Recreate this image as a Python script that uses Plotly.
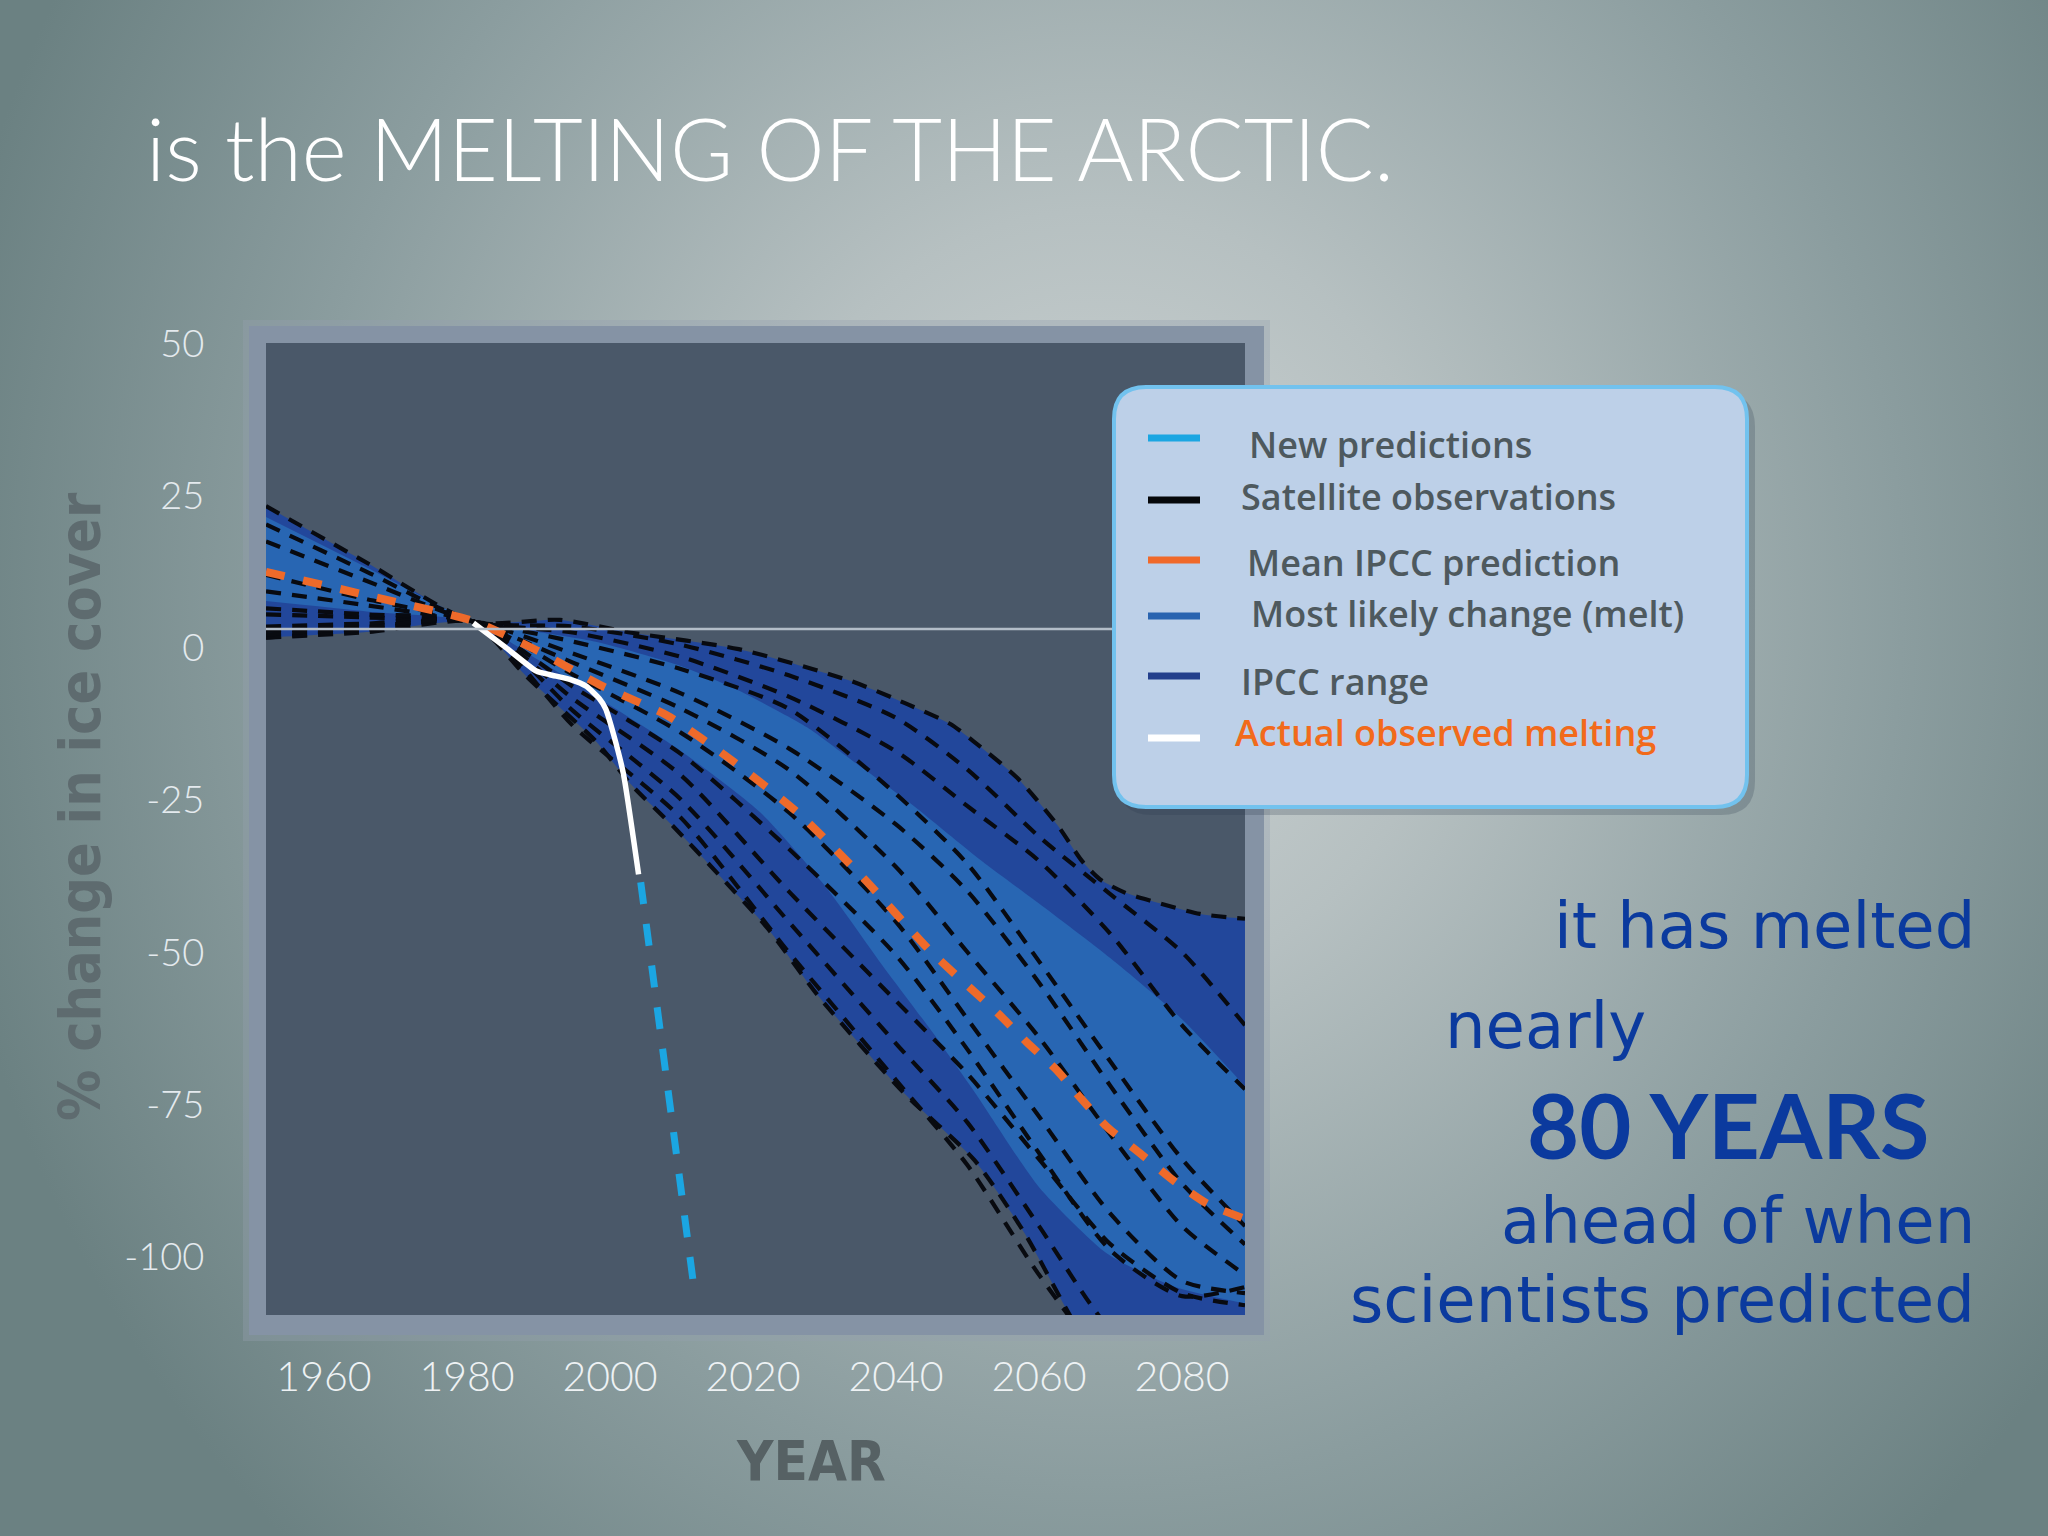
import base64
import plotly.graph_objects as go

W, H = 2048, 1536

# ------------------------------------------------------------------ data
x_tick_years = [1960, 1980, 2000, 2020, 2040, 2060, 2080]
y_tick_values = [50, 25, 0, -25, -50, -75, -100]
y_tick_labels = ["50", "25", "0", "-25", "-50", "-75", "-100"]

# IPCC range (outer, dark band)
ipcc_upper_years = [1951.9, 1966, 1981, 1993, 2003, 2018, 2033.6, 2041.5, 2047.6,
                    2050.8, 2056.9, 2062.5, 2066, 2068.5, 2072, 2075.5, 2082.5, 2088.8]
ipcc_upper = [23.3, 14.0, 4.3, 4.6, 2.5, -0.2, -5.4, -9.2, -12.5,
              -15.3, -21.3, -29.0, -35.0, -38.0, -40.2, -41.5, -43.7, -44.5]
ipcc_lower_years = [1951.9, 1966, 1981, 1984, 1988, 1993, 1998, 2003, 2009, 2015,
                    2022, 2029, 2041, 2051, 2058, 2064, 2070, 2088.8]
ipcc_lower = [1.7, 2.6, 4.3, 1.0, -4.3, -9.8, -15.3, -22.5, -29.5, -37.0,
              -46.0, -57.0, -73.0, -84.2, -96.2, -109.0, -121.0, -150.0]

# Most likely change (inner, medium band)
likely_upper_years = [1951.9, 1966, 1981, 1990, 1998, 2010, 2018, 2027.5, 2034, 2042,
                      2052, 2060, 2070, 2080, 2088.8]
likely_upper = [21.5, 13.2, 4.3, 2.6, 1.0, -3.0, -7.0, -13.0, -18.6, -25.5,
                -35.0, -42.0, -51.0, -61.0, -72.0]
likely_lower_years = [1951.9, 1966, 1981, 1990, 2000.5, 2010, 2021, 2030, 2038, 2045,
                      2051, 2060, 2069.5, 2079, 2088.8]
likely_lower = [7.7, 6.0, 4.3, -2.0, -9.8, -17.0, -27.0, -39.0, -52.0, -63.0,
                -73.0, -88.6, -99.5, -105.0, -107.7]

# Mean IPCC prediction
mean_years = [1951.9, 1966.6, 1980.9, 1989.6, 1998.8, 2008, 2017.2, 2026.4, 2035.6,
              2044.8, 2054.3, 2058.3, 2062.5, 2065.7, 2069.5, 2074.1, 2078.8, 2083.5, 2088.8]
mean_ipcc = [12.5, 8.5, 4.4, -0.3, -6.2, -11.1, -18.6, -27.2, -38.0,
             -49.8, -60.1, -64.8, -69.4, -73.8, -78.7, -83.0, -87.5, -91.3, -93.8]

# Individual model runs (black dashed)
model_years = [1951.9, 1966, 1981, 1995, 2010, 2025, 2040, 2050, 2060, 2070, 2080, 2088.8]
model_run_1 = [20.3, 12.5, 4.3, 3.5, 0.5, -4.5, -11.5, -20.0, -31.0, -40.5, -50.0, -62.0]
model_run_2 = [17.5, 11.0, 4.3, 2.5, -1.5, -8.0, -17.0, -26.0, -35.0, -47.0, -62.0, -72.5]
model_run_3 = [9.3, 7.0, 4.3, 1.0, -3.5, -10.0, -24.0, -35.5, -51.5, -68.0, -84.0, -95.0]
model_run_4 = [5.5, 5.0, 4.3, -1.0, -7.5, -16.5, -29.0, -40.0, -55.0, -72.0, -88.0, -98.0]
model_run_5 = [12.0, 8.0, 4.3, -2.5, -10.0, -20.0, -36.0, -50.0, -64.0, -80.0, -95.0, -103.0]
model_run_6 = [2.8, 3.5, 4.3, -4.5, -14.0, -27.0, -45.0, -61.0, -77.0, -93.0, -104.0, -106.0]
model_run_7 = [6.5, 5.5, 4.3, -6.5, -17.5, -33.0, -50.5, -66.0, -83.0, -99.0, -106.5, -105.0]
model_run_8 = [3.5, 4.0, 4.3, -8.5, -21.0, -40.0, -58.0, -70.0, -84.0, -98.0, -106.0, -108.0]
model_run_9 = [1.7, 3.0, 4.3, -10.5, -25.0, -45.0, -65.0, -78.0, -95.0, -112.0, -120.0, -125.0]
model_run_10 = [2.2, 3.3, 4.3, -13.0, -28.0, -50.0, -71.0, -85.0, -103.0, -118.0, -125.0, -130.0]

# Actual observed melting (white)
observed_years = [1980.9, 1985.5, 1989.7, 1991.6, 1994.5, 1996.7, 1998.5, 1999.4, 2000.5, 2001.9, 2004.0]
observed_melt = [4.1, 0.0, -3.8, -4.4, -5.2, -6.3, -8.3, -10.0, -14.2, -20.8, -37.2]

# New predictions (cyan)
new_pred_years = [2004.3, 2008.0, 2011.9]
new_pred = [-38.5, -71.0, -106.5]

baseline_value = 3.1

legend_labels = ["New predictions", "Satellite observations", "Mean IPCC prediction",
                 "Most likely change (melt)", "IPCC range", "Actual observed melting"]

title_text = "is the MELTING OF THE ARCTIC."
side_lines = ["it has melted", "nearly", "80 YEARS", "ahead of when", "scientists predicted"]

# ------------------------------------------------------------------ styles
C_DARK = "#22479b"
C_MID = "#2866b3"
C_BLACK = "#080a10"
C_ORANGE = "#ee6a2a"
C_CYAN = "#1ba6e2"
C_TEXT_BLUE = "#0b3a9e"
LATO = "Lato, 'Open Sans', sans-serif"
OPEN = "'Open Sans', 'Noto Sans', Lato, sans-serif"
DEJA = "'DejaVu Sans', 'Open Sans', sans-serif"
COND = "'Liberation Sans Narrow', 'DejaVu Sans Condensed', 'Roboto Condensed', 'Arial Narrow', sans-serif"


def px(x):
    return x / W


def py(y):
    return 1 - y / H


def rounded_path(x0, y0, x1, y1, r):
    return (f"M {px(x0 + r)} {py(y0)} L {px(x1 - r)} {py(y0)} "
            f"Q {px(x1)} {py(y0)} {px(x1)} {py(y0 + r)} L {px(x1)} {py(y1 - r)} "
            f"Q {px(x1)} {py(y1)} {px(x1 - r)} {py(y1)} L {px(x0 + r)} {py(y1)} "
            f"Q {px(x0)} {py(y1)} {px(x0)} {py(y1 - r)} L {px(x0)} {py(y0 + r)} "
            f"Q {px(x0)} {py(y0)} {px(x0 + r)} {py(y0)} Z")


fig = go.Figure()

spl = dict(shape="spline", smoothing=0.6)

# bands
fig.add_trace(go.Scatter(x=ipcc_lower_years, y=ipcc_lower, mode="lines",
                         line=dict(width=0, **spl), hoverinfo="skip"))
fig.add_trace(go.Scatter(x=ipcc_upper_years, y=ipcc_upper, mode="lines", fill="tonexty",
                         fillcolor=C_DARK, line=dict(width=0, **spl), hoverinfo="skip"))
fig.add_trace(go.Scatter(x=likely_lower_years, y=likely_lower, mode="lines",
                         line=dict(width=0, **spl), hoverinfo="skip"))
fig.add_trace(go.Scatter(x=likely_upper_years, y=likely_upper, mode="lines", fill="tonexty",
                         fillcolor=C_MID, line=dict(width=0, **spl), hoverinfo="skip"))

# dashed black model runs (incl. range edges)
dash_black = dict(color=C_BLACK, width=4.2, dash="15px,11px", shape="spline", smoothing=0.7)
for xs, ys in [(ipcc_upper_years, ipcc_upper), (ipcc_lower_years, ipcc_lower),
               (model_years, model_run_1), (model_years, model_run_2),
               (model_years, model_run_3), (model_years, model_run_4),
               (model_years, model_run_5), (model_years, model_run_6),
               (model_years, model_run_7), (model_years, model_run_8),
               (model_years, model_run_9), (model_years, model_run_10)]:
    fig.add_trace(go.Scatter(x=xs, y=ys, mode="lines", line=dash_black, hoverinfo="skip"))

fig.add_trace(go.Scatter(x=mean_years, y=mean_ipcc, mode="lines",
                         line=dict(color=C_ORANGE, width=8, dash="19px,19px",
                                   shape="spline", smoothing=0.6)))
fig.add_trace(go.Scatter(x=observed_years, y=observed_melt, mode="lines",
                         line=dict(color="#ffffff", width=5.5, shape="spline", smoothing=0.5)))
fig.add_trace(go.Scatter(x=new_pred_years, y=new_pred, mode="lines",
                         line=dict(color=C_CYAN, width=7, dash="22px,20px")))

# ------------------------------------------------------------------ background
svg = (f'<svg xmlns="http://www.w3.org/2000/svg" width="{W}" height="{H}" '
       f'viewBox="0 0 {W} {H}" preserveAspectRatio="none"><defs>'
       '<radialGradient id="g" cx="0" cy="0" r="1" gradientUnits="userSpaceOnUse" '
       'gradientTransform="translate(1100 600) scale(1180 1300)">'
       '<stop offset="0" stop-color="#cfd5d5"/><stop offset="0.3" stop-color="#b6c0c1"/>'
       '<stop offset="0.68" stop-color="#8b9d9f"/><stop offset="1" stop-color="#6b8182"/>'
       '</radialGradient></defs>'
       f'<rect width="{W}" height="{H}" fill="url(#g)"/></svg>')
data_uri = "data:image/svg+xml;base64," + base64.b64encode(svg.encode()).decode()
fig.add_layout_image(dict(source=data_uri, xref="paper", yref="paper", x=0, y=1,
                          sizex=1, sizey=1, xanchor="left", yanchor="top",
                          sizing="stretch", layer="below"))

shapes = []
# chart frame
shapes.append(dict(type="rect", xref="paper", yref="paper", layer="below",
                   x0=px(243), x1=px(1270), y0=py(1341), y1=py(320),
                   fillcolor="rgba(150,160,175,0.35)", line=dict(width=0)))
shapes.append(dict(type="rect", xref="paper", yref="paper", layer="below",
                   x0=px(249), x1=px(1264), y0=py(1335), y1=py(326),
                   fillcolor="#8593a5", line=dict(width=0)))
shapes.append(dict(type="rect", xref="paper", yref="paper", layer="below",
                   x0=px(266), x1=px(1245), y0=py(1315), y1=py(343),
                   fillcolor="#4a5869", line=dict(width=0)))
# baseline
shapes.append(dict(type="line", xref="x domain", yref="y", x0=0, x1=1,
                   y0=baseline_value, y1=baseline_value, layer="above",
                   line=dict(color="#b3bdc8", width=2.5)))
# legend box
shapes.append(dict(type="path", xref="paper", yref="paper", layer="above",
                   path=rounded_path(1118, 393, 1755, 815, 34),
                   fillcolor="rgba(40,55,75,0.22)", line=dict(width=0)))
shapes.append(dict(type="path", xref="paper", yref="paper", layer="above",
                   path=rounded_path(1114, 387, 1747, 807, 32),
                   fillcolor="#bdd0e8", line=dict(color="#72c2ee", width=4)))
legend_colors = [C_CYAN, "#05070a", "#f0692a", "#2a64b0", "#233f8c", "#ffffff"]
sample_y = [438, 500, 560, 616, 676, 738]
for c, yy in zip(legend_colors, sample_y):
    shapes.append(dict(type="line", xref="paper", yref="paper", layer="above",
                       x0=px(1148), x1=px(1200), y0=py(yy), y1=py(yy),
                       line=dict(color=c, width=7)))

annotations = []
text_x = [1247, 1239, 1245, 1249, 1239, 1233]
text_y = [444, 496, 562, 613, 681, 732]
text_col = ["#4e595e"] * 5 + ["#f26a1b"]
for lab, tx, ty, tc in zip(legend_labels, text_x, text_y, text_col):
    annotations.append(dict(text=lab, x=px(tx), y=py(ty), xref="paper", yref="paper",
                            xanchor="left", yanchor="middle", showarrow=False,
                            font=dict(family=OPEN, size=36, color=tc, weight=600)))

annotations.append(dict(text=title_text, x=px(144), y=py(147), xref="paper", yref="paper",
                        xanchor="left", yanchor="middle", showarrow=False,
                        font=dict(family=LATO, size=86, color="#ffffff", weight=300)))
annotations.append(dict(text="% change in ice cover", x=px(80), y=py(807), xref="paper",
                        yref="paper", xanchor="center", yanchor="middle", showarrow=False,
                        textangle=-90,
                        font=dict(family=COND, size=57, color="#5e6b6f", weight=700)))
annotations.append(dict(text="YEAR", x=px(811), y=py(1460), xref="paper", yref="paper",
                        xanchor="center", yanchor="middle", showarrow=False,
                        font=dict(family=COND, size=56, color="#566164", weight=700)))

side_specs = [
    (side_lines[0], 1977, 926, "right", 64, 400, DEJA),
    (side_lines[1], 1443, 1026, "left", 64, 400, DEJA),
    (side_lines[2], 1728, 1124, "center", 90, 700, LATO),
    (side_lines[3], 1977, 1221, "right", 64, 400, DEJA),
    (side_lines[4], 1977, 1300, "right", 64, 400, DEJA),
]
for txt, sx, sy, anc, sz, wt, fam in side_specs:
    annotations.append(dict(text=txt, x=px(sx), y=py(sy), xref="paper", yref="paper",
                            xanchor=anc, yanchor="middle", showarrow=False,
                            font=dict(family=fam, size=sz, color=C_TEXT_BLUE, weight=wt)))

fig.update_layout(
    width=W, height=H,
    margin=dict(l=0, r=0, t=0, b=0, pad=0),
    paper_bgcolor="#8a9a9c",
    plot_bgcolor="rgba(0,0,0,0)",
    showlegend=False,
    shapes=shapes,
    annotations=annotations,
    xaxis=dict(domain=[px(266), px(1245)], range=[1951.9, 2088.8], automargin=False,
               tickvals=x_tick_years, ticks="outside", ticklen=26,
               tickcolor="rgba(0,0,0,0)",
               tickfont=dict(family=LATO, size=41, color="#eef2f4", weight=300),
               showgrid=False, zeroline=False, showline=False, fixedrange=True),
    yaxis=dict(domain=[py(1315), py(343)], range=[-109.6, 50.1], automargin=False,
               tickvals=y_tick_values, ticktext=y_tick_labels, ticks="outside",
               ticklen=53, tickcolor="rgba(0,0,0,0)",
               tickfont=dict(family=LATO, size=38, color="#e4eaee", weight=300),
               showgrid=False, zeroline=False, showline=False, fixedrange=True),
)

fig.write_html("out.html",
               config={"displayModeBar": False},
               post_script="document.body.style.margin='0px';"
                           "document.documentElement.style.overflow='hidden';")
